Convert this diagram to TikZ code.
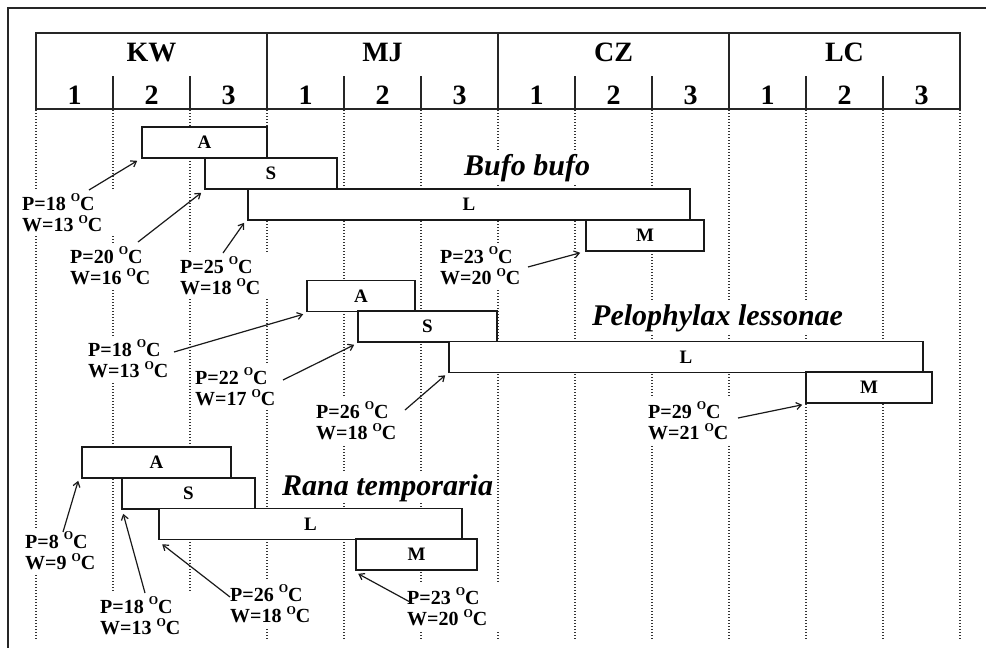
\documentclass[tikz,border=0pt]{standalone}
\usepackage{fontspec}
\setmainfont{Liberation Serif}
\usetikzlibrary{arrows.meta}

% raised small "O" used as the degree mark
\newcommand\supO{\raisebox{8.5pt}{\fontsize{12}{12}\selectfont O}}
% two-line temperature label: air (P) and water (W); the trailing space widens the white patch
\newcommand\temps[2]{P=#1 \supO C\\W=#2 \supO C\hspace*{11pt}}

\begin{document}
\begin{tikzpicture}[x=1pt,y=-1pt,
  frame/.style={line width=1.3pt, draw=black!85},
  hdr/.style={line width=1.5pt, draw=black!85},
  gridline/.style={line width=1.2pt, draw=black!80, dash pattern=on 0.9pt off 2.1pt},
  stagebox/.style={draw=black!90, line width=1.6pt, fill=white, inner sep=0pt,
    minimum height=31pt, font=\fontsize{19}{19}\selectfont\bfseries},
  hlabel/.style={font=\fontsize{28}{28}\selectfont\bfseries, inner sep=0pt, anchor=base},
  templabel/.style={font=\fontsize{20}{21.5}\selectfont\bfseries, align=left, fill=white,
    inner xsep=2pt, inner ysep=4pt, anchor=north west},
  species/.style={font=\fontsize{30}{30}\selectfont\bfseries\itshape, fill=white,
    inner sep=2pt, anchor=base west},
  arr/.style={line width=1.2pt, draw=black!90, -{Straight Barb[length=5pt,width=7pt]}}]

\useasboundingbox (0,0) rectangle (986,648);

% outer frame
\draw[frame] (8,648) -- (8,8) -- (986,8);

% dotted guide lines at every ten-day boundary
\foreach \k in {0,...,12}
  \draw[gridline] ({36+77*\k},110) -- ({36+77*\k},640);

% header table: months and decades
\draw[hdr] (36,33) rectangle (960,109);
\foreach \x in {267,498,729} \draw[hdr] (\x,33) -- (\x,109);
\foreach \x in {113,190,344,421,575,652,806,883} \draw[hdr] (\x,76) -- (\x,109);
\foreach \n [count=\i from 0] in {KW,MJ,CZ,LC}
  \node[hlabel] (h\n) at ({151.5+231*\i},61) {\n};
\foreach \i in {0,...,11} {
  \pgfmathtruncatemacro\d{mod(\i,3)+1}
  \node[hlabel] (d\i) at ({74.5+77*\i},104) {\d};
}

% species names
\node[species] (nbufo) at (462,175) {Bufo bufo};
\node[species] (npelo) at (590,325) {Pelophylax lessonae};
\node[species] (nrana) at (280,495) {Rana temporaria};

% Bufo bufo stages
\node[stagebox, minimum width=125pt] (bbA) at (204.5,142.5) {A};
\node[stagebox, minimum width=132pt] (bbS) at (271,173.5) {S};
\node[stagebox, minimum width=442pt] (bbL) at (469,204.5) {L};
\node[stagebox, minimum width=118pt] (bbM) at (645,235.5) {M};

% Pelophylax lessonae stages
\node[stagebox, minimum width=108pt] (plA) at (361,296) {A};
\node[stagebox, minimum width=139pt] (plS) at (427.5,326.5) {S};
\node[stagebox, minimum width=474pt] (plL) at (686,357) {L};
\node[stagebox, minimum width=126pt] (plM) at (869,387.5) {M};

% Rana temporaria stages
\node[stagebox, minimum width=149pt] (rtA) at (156.5,462.5) {A};
\node[stagebox, minimum width=133pt] (rtS) at (188.5,493.5) {S};
\node[stagebox, minimum width=303pt] (rtL) at (310.5,524) {L};
\node[stagebox, minimum width=121pt] (rtM) at (416.5,554.5) {M};

% temperature labels
\node[templabel] (tb1) at (20,189.6) {\temps{18}{13}};
\node[templabel] (tb2) at (68,242.6) {\temps{20}{16}};
\node[templabel] (tb3) at (178,252.6) {\temps{25}{18}};
\node[templabel] (tb4) at (438,242.6) {\temps{23}{20}};
\node[templabel] (tp1) at (86,335.6) {\temps{18}{13}};
\node[templabel] (tp2) at (193,363.6) {\temps{22}{17}};
\node[templabel] (tp3) at (314,397.6) {\temps{26}{18}};
\node[templabel] (tp4) at (646,397.6) {\temps{29}{21}};
\node[templabel] (tr1) at (23,527.6) {\temps{8}{9}};
\node[templabel] (tr2) at (98,592.6) {\temps{18}{13}};
\node[templabel] (tr3) at (228,580.6) {\temps{26}{18}};
\node[templabel] (tr4) at (405,583.6) {\temps{23}{20}};

% arrow tails beside the labels
\coordinate (sb1) at (89,190);
\coordinate (sb2) at (138,242);
\coordinate (sb3) at (223,253);
\coordinate (sb4) at (528,267);
\coordinate (sp1) at (174,352);
\coordinate (sp2) at (283,380);
\coordinate (sp3) at (405,410);
\coordinate (sp4) at (738,418);
\coordinate (sr1) at (63,532);
\coordinate (sr2) at (145,593);
\coordinate (sr3) at (230,597);
\coordinate (sr4) at (410,602);

% arrows to the start of each stage
\draw[arr] (sb1) -- ([xshift=-4pt,yshift=-2pt]bbA.south west);
\draw[arr] (sb2) -- ([xshift=-3pt,yshift=-3pt]bbS.south west);
\draw[arr] (sb3) -- ([xshift=-3pt,yshift=-2pt]bbL.south west);
\draw[arr] (sb4) -- ([xshift=-5pt,yshift=-1pt]bbM.south west);
\draw[arr] (sp1) -- ([xshift=-3pt,yshift=-2pt]plA.south west);
\draw[arr] (sp2) -- ([xshift=-3pt,yshift=-2pt]plS.south west);
\draw[arr] (sp3) -- ([xshift=-3pt,yshift=-2pt]plL.south west);
\draw[arr] (sp4) -- ([xshift=-3pt,yshift=-1pt]plM.south west);
\draw[arr] (sr1) -- ([xshift=-3pt,yshift=-2pt]rtA.south west);
\draw[arr] (sr2) -- ([xshift=2pt,yshift=-4pt]rtS.south west);
\draw[arr] (sr3) -- ([xshift=4pt,yshift=-4pt]rtL.south west);
\draw[arr] (sr4) -- ([xshift=3pt,yshift=-3pt]rtM.south west);

\end{tikzpicture}
\end{document}
